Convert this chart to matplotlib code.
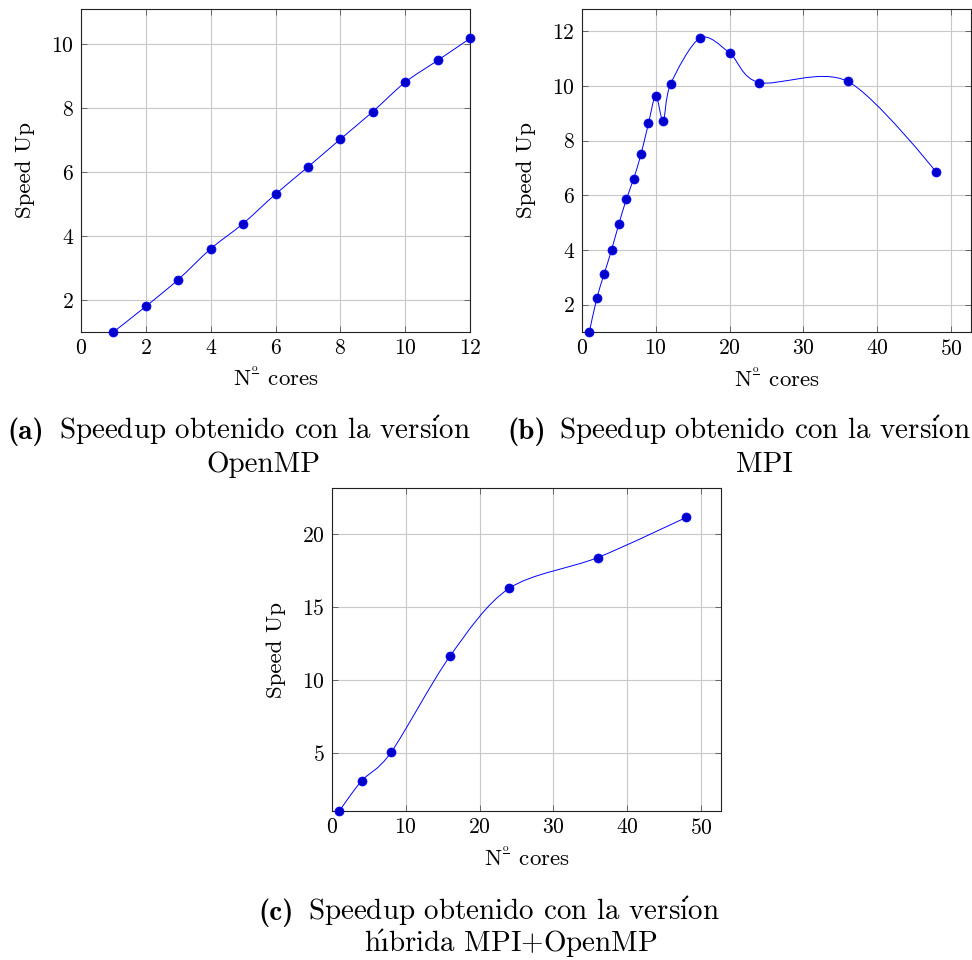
import numpy as np
import matplotlib
matplotlib.use("Agg")
import matplotlib.pyplot as plt
from matplotlib.path import Path
from matplotlib.patches import PathPatch
from matplotlib.mathtext import MathTextParser

plt.rcParams["font.family"] = ["cmr10", "DejaVu Serif"]
plt.rcParams["mathtext.fontset"] = "cm"
plt.rcParams["axes.formatter.use_mathtext"] = True

# Speedup measurements
openmp_cores = [1, 2, 3, 4, 5, 6, 7, 8, 9, 10, 11, 12]
openmp_speedup = [1.0, 1.80, 2.64, 3.60, 4.39, 5.31, 6.16, 7.03, 7.89, 8.81, 9.49, 10.18]

mpi_cores = [1, 2, 3, 4, 5, 6, 7, 8, 9, 10, 11, 12, 16, 20, 24, 36, 48]
mpi_speedup = [1.0, 2.23, 3.12, 4.00, 4.96, 5.85, 6.61, 7.51, 8.63, 9.65, 8.72,
               10.07, 11.76, 11.21, 10.13, 10.17, 6.85]

hybrid_cores = [1, 4, 8, 16, 24, 36, 48]
hybrid_speedup = [1.0, 3.06, 5.02, 11.63, 16.27, 18.38, 21.14]

xticks_a = [0, 2, 4, 6, 8, 10, 12]
yticks_a = [2, 4, 6, 8, 10]
xticks_bc = [0, 10, 20, 30, 40, 50]
yticks_b = [2, 4, 6, 8, 10, 12]
yticks_c = [5, 10, 15, 20]


def first_valid(*candidates):
    """Return the first string that mathtext can lay out."""
    parser = MathTextParser("path")
    for s in candidates:
        try:
            parser.parse(s, dpi=100)
            return s
        except Exception:
            continue
    return candidates[-1]


def acute(letter, pull, advance):
    """Upright letter with an acute accent, the accent pulled back over it."""
    return (r"$\acute{\mathrm{%s}\hspace{-%.2f}}\hspace{%.2f}$" % (letter, pull, advance))


o_acute = first_valid(acute("o", 0.75, 0.57), r"$\acute{\mathrm{o}}$")
i_acute = first_valid(acute("ı", 0.30, 0.30), r"$\acute{\imath}$")

xlabel = first_valid(r"N$^{\genfrac{}{}{0.6}{}{\mathrm{o}}{\,}}$ cores",
                     r"N$^{\mathrm{o}}$ cores")
ylabel = "Speed Up"

line1 = "Speedup obtenido con la versi" + o_acute + "n"
captions = [
    ("(a)", line1, "OpenMP"),
    ("(b)", line1, "MPI"),
    ("(c)", line1, "h" + i_acute + "brida MPI+OpenMP"),
]

W, H = 972, 960
fig = plt.figure(figsize=(W / 100, H / 100), dpi=100)


def px_axes(left, top, right, bottom):
    return fig.add_axes([left / W, 1 - bottom / H, (right - left) / W, (bottom - top) / H])


def smooth_path(x, y, tension=0.55 * 0.2775):
    """Cardinal spline through the points, as cubic Bezier segments."""
    p = np.column_stack([x, y]).astype(float)
    n = len(p)
    verts = [p[0]]
    codes = [Path.MOVETO]
    for i in range(n - 1):
        prev_pt = p[i - 1] if i > 0 else p[i]
        next_pt = p[i + 2] if i + 2 < n else p[i + 1]
        c1 = p[i] + tension * (p[i + 1] - prev_pt) if i > 0 else p[i]
        c2 = p[i + 1] - tension * (next_pt - p[i]) if i + 2 < n else p[i + 1]
        verts += [c1, c2, p[i + 1]]
        codes += [Path.CURVE4] * 3
    return Path(verts, codes)


def style(ax, xlim, ylim, xticks, yticks):
    ax.set_xlim(*xlim)
    ax.set_ylim(*ylim)
    ax.set_xticks(xticks)
    ax.set_yticks(yticks)
    ax.grid(True, color="#c8c8c8", linewidth=0.8)
    ax.set_axisbelow(True)
    ax.tick_params(direction="in", top=True, right=True, length=4, width=0.6,
                   color="#555555", labelsize=15.6, pad=5)
    for s in ax.spines.values():
        s.set_linewidth(0.8)
        s.set_color("#222222")
    ax.set_xlabel(xlabel, fontsize=16.5, labelpad=6)
    ax.set_ylabel(ylabel, fontsize=16.5, labelpad=12)


def draw_series(ax, x, y):
    ax.add_patch(PathPatch(smooth_path(x, y), facecolor="none", edgecolor="#0000ff",
                           linewidth=0.7, zorder=3))
    ax.plot(x, y, linestyle="none", marker="o", markersize=6.5,
            markerfacecolor="#0000cc", markeredgecolor="#0000ff",
            markeredgewidth=0.5, zorder=4, clip_on=False)


ax_a = px_axes(81, 9, 470, 332)
style(ax_a, (0, 12), (1, 11.1), xticks_a, yticks_a)
draw_series(ax_a, openmp_cores, openmp_speedup)

ax_b = px_axes(582, 9, 971, 332)
style(ax_b, (0, 52.7), (1, 12.82), xticks_bc, yticks_b)
draw_series(ax_b, mpi_cores, mpi_speedup)

ax_c = px_axes(332, 488, 721, 811)
style(ax_c, (0, 52.7), (1, 23.15), xticks_bc, yticks_c)
draw_series(ax_c, hybrid_cores, hybrid_speedup)

# Sub-figure captions
cap_size = 20.9
cap_layout = [
    (7, 59, 439, 263, 472),
    (507, 559, 439, 764, 472),
    (258, 308, 920, 511, 952),
]
for (tag, l1, l2), (xt, x1, y1, x2c, y2) in zip(captions, cap_layout):
    fig.text(xt / W, 1 - y1 / H, tag, fontsize=cap_size, fontweight="bold",
             family=["cmb10", "DejaVu Serif"], ha="left", va="baseline")
    fig.text(x1 / W, 1 - y1 / H, l1, fontsize=cap_size, ha="left", va="baseline")
    fig.text(x2c / W, 1 - y2 / H, l2, fontsize=cap_size, ha="center", va="baseline")

fig.savefig("out.png", dpi=100)
